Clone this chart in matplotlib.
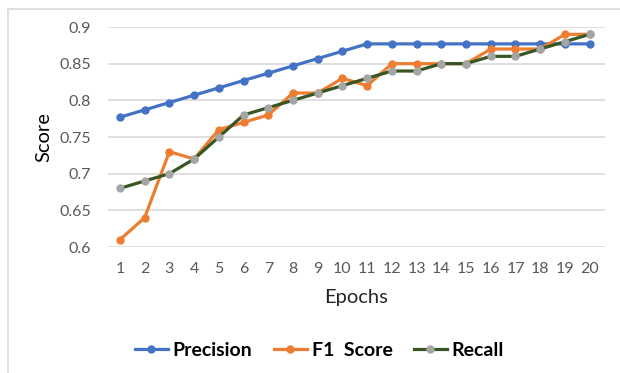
import matplotlib.pyplot as plt
from matplotlib.lines import Line2D

plt.rcParams['font.family'] = ['Lato', 'DejaVu Sans']

epochs = list(range(1, 21))
precision = [0.777, 0.787, 0.797, 0.807, 0.817, 0.827, 0.837, 0.847, 0.857, 0.867,
             0.877, 0.877, 0.877, 0.877, 0.877, 0.877, 0.877, 0.877, 0.877, 0.877]
f1_score = [0.61, 0.64, 0.73, 0.72, 0.76, 0.77, 0.78, 0.81, 0.81, 0.83,
            0.82, 0.85, 0.85, 0.85, 0.85, 0.87, 0.87, 0.87, 0.89, 0.89]
recall = [0.68, 0.69, 0.70, 0.72, 0.75, 0.78, 0.79, 0.80, 0.81, 0.82,
          0.83, 0.84, 0.84, 0.85, 0.85, 0.86, 0.86, 0.87, 0.88, 0.89]
y_ticks = [0.6, 0.65, 0.7, 0.75, 0.8, 0.85, 0.9]
y_labels = ['0.6', '0.65', '0.7', '0.75', '0.8', '0.85', '0.9']

fig = plt.figure(figsize=(6.2, 3.73), dpi=100)
ax = fig.add_axes([0.1735, 0.3378, 0.8015, 0.5898])

ax.plot(epochs, precision, color='#4472C4', lw=2.3, marker='o', ms=5, label='Precision', zorder=3)
ax.plot(epochs, f1_score, color='#ED7D31', lw=2.3, marker='o', ms=5, label='F1  Score', zorder=4)
ax.plot(epochs, recall, color='#375623', lw=2.3, marker='o', ms=5,
        markerfacecolor='#A5A5A5', markeredgecolor='#A5A5A5', label='Recall', zorder=5)

ax.set_xlim(0.5, 20.6)
ax.set_ylim(0.6, 0.9)
ax.set_xticks(epochs)
ax.set_yticks(y_ticks)
ax.set_yticklabels(y_labels)
ax.tick_params(length=0, labelsize=11.5, labelcolor='#595959')
ax.tick_params(axis='x', pad=11)
ax.tick_params(axis='y', pad=12)
ax.grid(axis='y', color='#D9D9D9', lw=1.2)
ax.set_axisbelow(True)
for s in ax.spines.values():
    s.set_visible(False)

ax.set_xlabel('Epochs', fontsize=14.5, color='#262626', labelpad=9)
ax.set_ylabel('Score', fontsize=14.5, color='#000000', labelpad=5)

fig.legend(loc='center', bbox_to_anchor=(0.515, 0.06), ncol=3, frameon=False,
           prop={'weight': 'bold', 'size': 14}, handlelength=1.7,
           handletextpad=0.25, columnspacing=1.1)

# outer chart frame
fig.add_artist(Line2D([8 / 620, 8 / 620], [0, 1 - 9 / 373], transform=fig.transFigure,
                      color='#D9D9D9', lw=1.2))
fig.add_artist(Line2D([8 / 620, 1], [1 - 9 / 373, 1 - 9 / 373], transform=fig.transFigure,
                      color='#D9D9D9', lw=1.2))

fig.savefig('out.png', dpi=100)
